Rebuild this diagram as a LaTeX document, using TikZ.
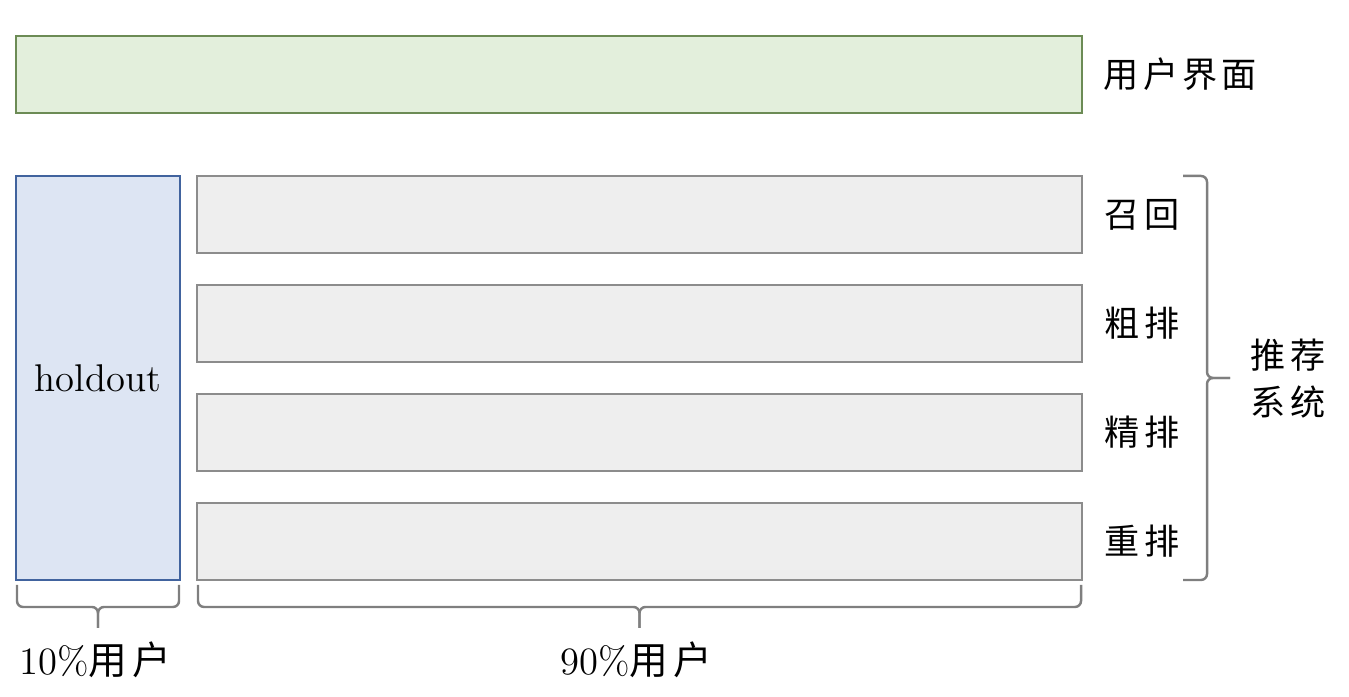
\documentclass[tikz,border=0pt]{standalone}
\usepackage{fontspec}
\newfontfamily\cjk[LetterSpace=12]{Noto Sans CJK SC}
\usetikzlibrary{positioning}
\definecolor{uifill}{HTML}{E3EFDC}
\definecolor{uiline}{HTML}{6C8B55}
\definecolor{hofill}{HTML}{DDE5F3}
\definecolor{holine}{HTML}{41639E}
\definecolor{stfill}{HTML}{EEEEEE}
\definecolor{stline}{HTML}{8C8C8C}
\definecolor{brline}{HTML}{7F7F7F}
\begin{document}
\begin{tikzpicture}[
    node distance=0.295cm,
    ui/.style={rectangle, draw=uiline, fill=uifill, line width=0.7pt, minimum width=10.66cm, minimum height=0.77cm, inner sep=0pt},
    hold/.style={rectangle, draw=holine, fill=hofill, line width=0.7pt, minimum width=1.64cm, minimum height=4.04cm, inner sep=0pt, font=\fontsize{11pt}{13pt}\selectfont},
    stage/.style={rectangle, draw=stline, fill=stfill, line width=0.7pt, minimum width=8.85cm, minimum height=0.77cm, inner sep=0pt},
    tag/.style={font=\fontsize{10pt}{13.4pt}\selectfont\cjk, align=center, inner sep=0pt},
    share/.style={font=\fontsize{11pt}{13pt}\selectfont, inner sep=0pt},
    bracket/.style={draw=brline, line width=0.7pt, rounded corners=0.06cm}
]
    \useasboundingbox (0,0) rectangle (13.49,6.97);

    % User interface
    \node [ui] (ui) at (5.49,6.225) {};
    \node [tag, anchor=west] (uitag) at (11.03,6.225) {用户界面};

    % Holdout and recommender stages
    \node [hold] (hold) at (0.98,3.19) {holdout};
    \node [stage] (recall) at (6.395,4.825) {};
    \node [stage, below=of recall] (rough) {};
    \node [stage, below=of rough] (fine) {};
    \node [stage, below=of fine] (rerank) {};

    % Stage labels
    \node [tag, anchor=west, xshift=0.21cm] (recalltag) at (recall.east) {召回};
    \node [tag, anchor=west, xshift=0.21cm] (roughtag) at (rough.east) {粗排};
    \node [tag, anchor=west, xshift=0.21cm] (finetag) at (fine.east) {精排};
    \node [tag, anchor=west, xshift=0.21cm] (reranktag) at (rerank.east) {重排};

    % Right bracket
    \coordinate (rs) at (11.83,5.21);
    \coordinate (re) at (11.83,1.17);
    \coordinate (rt) at (12.30,3.19);
    \draw [bracket] (rs) -- (12.07,5.21) -- (12.07,3.19) -- (rt);
    \draw [bracket] (re) -- (12.07,1.17) -- (12.07,3.19) -- (rt);
    \node [tag] (sys) at (12.88,3.185) {推荐\\系统};

    % Bottom brackets
    \coordinate (ht) at (0.98,0.69);
    \draw [bracket] (0.17,1.12) -- (0.17,0.90) -- (0.98,0.90) -- (ht);
    \draw [bracket] (1.79,1.12) -- (1.79,0.90) -- (0.98,0.90) -- (ht);
    \node [share] (holdtag) at (0.95,0.37) {10\%{\cjk 用户}};

    \coordinate (st) at (6.395,0.69);
    \draw [bracket] (1.98,1.12) -- (1.98,0.90) -- (6.395,0.90) -- (st);
    \draw [bracket] (10.81,1.12) -- (10.81,0.90) -- (6.395,0.90) -- (st);
    \node [share] (stagetag) at (6.36,0.37) {90\%{\cjk 用户}};
\end{tikzpicture}
\end{document}
